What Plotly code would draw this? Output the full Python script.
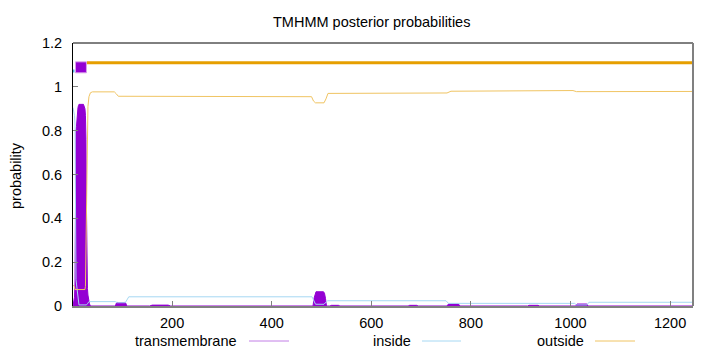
import plotly.graph_objects as go

# ---------------- data ----------------
seq_length = 1246

# transmembrane posterior probability (residue, value)
tm_res = [1, 2, 3, 4, 5, 6, 7, 8, 9, 10, 11, 12, 13, 22, 23, 24, 25, 26, 27, 28, 29, 30, 31, 32, 33, 34, 36,
          86, 88, 90, 105, 107, 109,
          155, 160, 192, 197,
          483, 485, 487, 489, 504, 506, 508, 510,
          517, 520, 534, 537,
          674, 677, 691, 694,
          752, 755, 775, 778,
          914, 917, 935, 938,
          1011, 1013, 1033, 1035,
          1246]
tm_prob = [0, 0.01, 0.02, 0.04, 0.10, 0.79, 0.80, 0.82, 0.86, 0.89, 0.905, 0.915, 0.92, 0.92, 0.915, 0.91, 0.90, 0.87, 0.76, 0.45, 0.15, 0.08, 0.05, 0.03, 0.02, 0.01, 0,
           0, 0.013, 0.016, 0.016, 0.013, 0,
           0, 0.004, 0.004, 0,
           0, 0.035, 0.058, 0.065, 0.065, 0.058, 0.035, 0,
           0, 0.003, 0.003, 0,
           0, 0.003, 0.003, 0,
           0, 0.009, 0.009, 0,
           0, 0.003, 0.003, 0,
           0, 0.009, 0.009, 0,
           0]

# inside posterior probability
in_res = [1, 2, 3, 4, 5, 6, 7, 8, 9, 10, 11, 12, 13, 25, 28, 30, 33, 86, 90, 106, 110, 113,
          481, 485, 488, 505, 509, 512, 750, 755, 1008, 1012, 1033, 1037, 1246]
in_prob = [0.905, 0.89, 0.88, 0.87, 0.825, 0.13, 0.12, 0.10, 0.075, 0.045, 0.025, 0.01, 0.005, 0.005, 0.005, 0.01, 0.02, 0.02, 0.015, 0.015, 0.03, 0.042,
           0.042, 0.025, 0.008, 0.008, 0.02, 0.024, 0.024, 0.012, 0.012, 0.005, 0.005, 0.017, 0.017]

# outside posterior probability
out_res = [1, 4, 5, 25, 26, 27, 28, 29, 30, 31, 33, 36, 40, 84, 88, 92,
           480, 484, 488, 505, 509, 513, 752, 760, 1005, 1012, 1246]
out_prob = [0.095, 0.088, 0.075, 0.075, 0.09, 0.25, 0.55, 0.75, 0.85, 0.91, 0.955, 0.973, 0.977, 0.977, 0.968, 0.957,
            0.955, 0.935, 0.927, 0.927, 0.945, 0.970, 0.972, 0.980, 0.983, 0.978, 0.979]

# predicted topology segments
topo_kind = ["inside", "transmembrane", "outside"]
topo_start = [1, 6, 29]
topo_end = [4, 28, 1246]

series_names = ["transmembrane", "inside", "outside"]
x_tick_vals = [200, 400, 600, 800, 1000, 1200]
x_tick_text = ["200", "400", "600", "800", "1000", "1200"]
y_tick_vals = [0, 0.2, 0.4, 0.6, 0.8, 1.0, 1.2]
y_tick_text = ["0", "0.2", "0.4", "0.6", "0.8", "1", "1.2"]

# ---------------- style ----------------
C_TM = "#9400d3"
C_IN = "#56b4e9"
C_OUT = "#e69f00"
C_IN_THIN = "#a6d8f3"
C_OUT_THIN = "#f0c462"
C_TM_THIN = "#c27ee6"
FONT = "Liberation Sans, Arial, sans-serif"
FS = 14.5

fig = go.Figure()

# topology bars on top
for kind, s, e in zip(topo_kind, topo_start, topo_end):
    if kind == "inside":
        fig.add_trace(go.Scatter(x=[s, e], y=[1.072, 1.072], mode="lines",
                                 line=dict(color=C_IN, width=3), hoverinfo="skip", showlegend=False))
    elif kind == "outside":
        fig.add_trace(go.Scatter(x=[s, e], y=[1.11, 1.11], mode="lines",
                                 line=dict(color=C_OUT, width=3), hoverinfo="skip", showlegend=False))
    else:
        fig.add_trace(go.Scatter(x=[s, e, e, s, s], y=[1.064, 1.064, 1.114, 1.114, 1.064], mode="lines",
                                 fill="toself", fillcolor=C_TM,
                                 line=dict(color="#d9a0ea", width=1), hoverinfo="skip", showlegend=False))

fig.add_trace(go.Scatter(x=tm_res, y=tm_prob, mode="lines", fill="tozeroy",
                         fillcolor=C_TM, line=dict(color=C_TM, width=1),
                         name=series_names[0], showlegend=False))
fig.add_trace(go.Scatter(x=in_res, y=in_prob, mode="lines",
                         line=dict(color=C_IN_THIN, width=1), name=series_names[1], showlegend=False))
fig.add_trace(go.Scatter(x=out_res, y=out_prob, mode="lines",
                         line=dict(color=C_OUT_THIN, width=1), name=series_names[2], showlegend=False))

W, H = 720, 352
L, R, T, B = 73, 27, 43, 46
pw, ph = W - L - R, H - T - B


def px_x(px):
    return (px - L) / pw


def px_y(py):
    return (H - B - py) / ph


shapes = [
    dict(type="line", xref="paper", yref="paper", x0=0, x1=1, y0=1, y1=1,
         line=dict(color="black", width=1)),
    dict(type="line", xref="paper", yref="paper", x0=1, x1=1, y0=0, y1=1,
         line=dict(color="#808080", width=2)),
]
annotations = [
    dict(text="TMHMM posterior probabilities", xref="paper", yref="paper",
         x=px_x(371), y=px_y(22), xanchor="center", yanchor="middle", showarrow=False,
         font=dict(family=FONT, size=FS, color="black")),
    dict(text="probability", xref="paper", yref="paper", x=px_x(16), y=px_y(176),
         xanchor="center", yanchor="middle", textangle=-90, showarrow=False,
         font=dict(family=FONT, size=FS, color="black")),
]

# legend (gnuplot style: label then sample line)
leg_text_right = [239, 413, 586]
leg_line = [(249, 289), (422, 461), (595, 635)]
leg_colors = [C_TM_THIN, C_IN_THIN, C_OUT_THIN]
for name, tr, (l0, l1), c in zip(series_names, leg_text_right, leg_line, leg_colors):
    annotations.append(dict(text=name, xref="paper", yref="paper", x=px_x(tr), y=px_y(341),
                            xanchor="right", yanchor="middle", showarrow=False,
                            font=dict(family=FONT, size=FS, color="black")))
    shapes.append(dict(type="line", xref="paper", yref="paper", x0=px_x(l0), x1=px_x(l1),
                       y0=px_y(341), y1=px_y(341), line=dict(color=c, width=1)))

fig.update_layout(
    width=W, height=H,
    margin=dict(l=L, r=R, t=T, b=B, pad=0),
    paper_bgcolor="white", plot_bgcolor="white",
    font=dict(family=FONT, size=FS, color="black"),
    showlegend=False,
    shapes=shapes, annotations=annotations,
    xaxis=dict(range=[1, seq_length], tickvals=x_tick_vals, ticktext=x_tick_text,
               ticks="inside", ticklen=5, tickcolor="#808080", showgrid=False, zeroline=False,
               showline=True, linecolor="#808080", linewidth=2, ticklabelstandoff=3,
               tickfont=dict(family=FONT, size=FS)),
    yaxis=dict(range=[0, 1.2], tickvals=y_tick_vals, ticktext=y_tick_text,
               ticks="inside", ticklen=5, tickcolor="#808080", showgrid=False, zeroline=False,
               showline=True, linecolor="black", linewidth=1, ticklabelstandoff=7,
               tickfont=dict(family=FONT, size=FS)),
)

fig.write_html("out.html")
